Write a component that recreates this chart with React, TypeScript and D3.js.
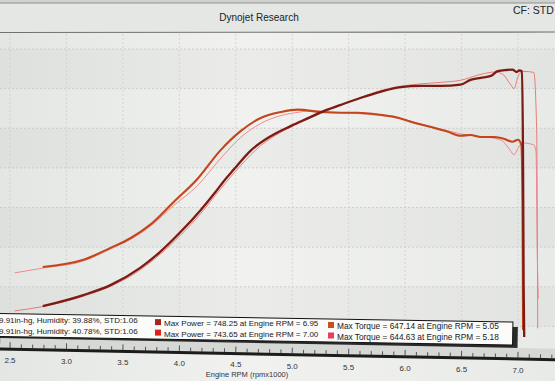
import React from "react";
import * as d3 from "d3";

const W = 555;
const H = 381;

// Run 1 (thick) — Power
const power1Rpm = [2.79, 3.15, 3.39, 3.65, 3.83, 4.01, 4.19, 4.32, 4.39, 4.48, 4.63, 4.81, 4.99, 5.16, 5.25, 5.43, 5.61, 5.78, 5.96, 6.14, 6.32, 6.49, 6.58, 6.67, 6.76, 6.82, 6.9, 6.95, 6.99, 7.01, 7.035, 7.045, 7.05, 7.055];
const power1Hp = [151, 179, 204, 247, 288, 338, 394, 439, 465, 495, 543, 580, 606, 628, 640, 659, 677, 692, 704, 707, 707, 710, 722, 727, 732, 744, 747, 748, 742, 746, 744, 500, 200, 73];
// Run 1 (thick) — Torque
const torque1Rpm = [2.79, 3.15, 3.39, 3.57, 3.74, 3.95, 4.16, 4.36, 4.54, 4.72, 4.9, 5.05, 5.25, 5.43, 5.58, 5.78, 5.9, 6.08, 6.23, 6.38, 6.49, 6.58, 6.67, 6.79, 6.88, 6.95, 7.0, 7.03, 7.04, 7.045];
const torque1Tq = [250, 268, 298, 323, 356, 414, 472, 543, 592, 626, 641, 647, 641, 639, 639, 634, 629, 614, 603, 591, 581, 583, 578, 578, 573, 566, 571, 558, 400, 91];
// Run 2 (thin) — Power
const power2Rpm = [2.54, 2.79, 3.15, 3.39, 3.65, 3.83, 4.01, 4.19, 4.36, 4.54, 4.72, 4.9, 5.07, 5.25, 5.43, 5.61, 5.78, 5.96, 6.14, 6.32, 6.49, 6.67, 6.8, 6.87, 6.93, 6.965, 7.0, 7.04, 7.14, 7.165, 7.175];
const power2Hp = [139, 150, 176, 201, 242, 282, 330, 385, 445, 505, 556, 590, 614, 637, 658, 678, 695, 706, 712, 716, 721, 736, 742, 735, 712, 700, 730, 743.6, 741, 600, 95];
// Run 2 (thin) — Torque
const torque2Rpm = [2.54, 2.79, 3.15, 3.39, 3.57, 3.74, 3.95, 4.16, 4.36, 4.54, 4.72, 4.9, 5.07, 5.18, 5.35, 5.58, 5.78, 5.96, 6.14, 6.32, 6.49, 6.67, 6.8, 6.87, 6.93, 6.965, 7.0, 7.04, 7.14, 7.16, 7.17, 7.18];
const torque2Tq = [235, 247, 265, 295, 320, 352, 405, 455, 522, 576, 612, 632, 641, 644.6, 641, 637, 632, 624, 611, 598, 586, 579, 574, 566, 545, 533, 550, 563, 558, 540, 300, 170];

const rpmTicks = [2.5, 3.0, 3.5, 4.0, 4.5, 5.0, 5.5, 6.0, 6.5, 7.0];
const gridValues = [100, 200, 300, 400, 500, 600, 700, 800];
const legendRun = ["9.91in-hg, Humidity: 39.88%, STD:1.06", "9.91in-hg, Humidity: 40.78%, STD:1.06"];
const legendPower = ["Max Power = 748.25 at Engine RPM = 6.95", "Max Power = 743.65 at Engine RPM = 7.00"];
const legendTorque = ["Max Torque = 647.14 at Engine RPM = 5.05", "Max Torque = 644.63 at Engine RPM = 5.18"];
const powerColors = ["#a3271a", "#e3201e"];
const torqueColors = ["#c8501e", "#ea3d5a"];

export default function App() {
  const x = d3.scaleLinear().domain([2.5, 7.0]).range([10, 518]);
  const y = d3.scaleLinear().domain([0, 800]).range([366, 49]);
  const line = d3
    .line<[number, number]>()
    .x((d) => x(d[0]))
    .y((d) => y(d[1]))
    .curve(d3.curveMonotoneX);
  const zip = (a: number[], b: number[]) => a.map((v, i) => [v, b[i]] as [number, number]);

  const minorTicks = d3.range(24, 74).map((v) => v / 10);
  const font = "'Liberation Sans', Arial, sans-serif";
  const slope = 0.0166; // slight tilt of the photographed screen
  const tilt = (px: number) => px * slope;

  return (
    <svg width={W} height={H} style={{ position: "absolute", left: 0, top: 0, display: "block" }} fontFamily={font}>
      <defs>
        <linearGradient id="bg" x1="0" x2="1" y1="0" y2="0">
          <stop offset="0" stopColor="#e3e6e3" />
          <stop offset="0.45" stopColor="#f1f2f0" />
          <stop offset="1" stopColor="#e8eae7" />
        </linearGradient>
      </defs>
      <rect x={0} y={0} width={W} height={H} fill="url(#bg)" />
      {/* header */}
      <rect x={0} y={0} width={W} height={3} fill="#cfd2cf" />
      <line x1={0} x2={W} y1={3} y2={3} stroke="#8d908d" strokeWidth={1} />
      <rect x={0} y={4} width={W} height={28} fill="#e5e7e4" />
      <line x1={0} x2={W} y1={32.5} y2={32} stroke="#6f726f" strokeWidth={1.2} />
      <text x={259} y={21} textAnchor="middle" fontSize={10} fill="#222">Dynojet Research</text>
      <text x={513} y={14} fontSize={10.5} fill="#222">CF: STD</text>

      {/* alternating bands */}
      {gridValues.filter((_, i) => i % 2 === 0).map((v) => (
        <rect key={"b" + v} x={0} y={y(v + 100)} width={W} height={y(v) - y(v + 100)} fill="#000" opacity={0.025} />
      ))}
      {/* grid */}
      {gridValues.map((v) => (
        <line key={"h" + v} x1={0} x2={W} y1={y(v)} y2={y(v)} stroke="#c4c7c4" strokeWidth={0.8} strokeDasharray="2,2" />
      ))}
      {rpmTicks.map((v) => (
        <line key={"v" + v} x1={x(v)} x2={x(v)} y1={34} y2={340} stroke="#cdd0cd" strokeWidth={0.8} strokeDasharray="2,2" />
      ))}

      {/* run 2 thin lines */}
      <path d={line(zip(power2Rpm, power2Hp)) || ""} fill="none" stroke="#e8706a" strokeWidth={1} opacity={0.9} />
      <path d={line(zip(torque2Rpm, torque2Tq)) || ""} fill="none" stroke="#ee7f86" strokeWidth={1} opacity={0.9} />
      {/* run 1 thick lines */}
      <path d={line(zip(torque1Rpm, torque1Tq)) || ""} fill="none" stroke="#c2461c" strokeWidth={2.1} />
      <path d={line(zip(power1Rpm, power1Hp)) || ""} fill="none" stroke="#7b1c14" strokeWidth={2.3} />

      {/* legend box (tilted) */}
      <g transform="rotate(0.95, 0, 314)">
        <rect x={-6} y={318} width={524} height={26} fill="#2a2a2a" />
        <rect x={-6} y={313.5} width={519} height={23} fill="#fbfbfa" stroke="#111" strokeWidth={1} />
      </g>
      {legendRun.map((t, i) => {
        const by = 322.5 + i * 10.5;
        return (
          <g key={"l" + i}>
            <text x={-1} y={by + tilt(60)} fontSize={8} fill="#1a1a1a">{t}</text>
            <rect x={155} y={by - 6 + tilt(158)} width={6} height={6} fill={powerColors[i]} />
            <text x={164} y={by + tilt(230)} fontSize={8} fill="#1a1a1a">{legendPower[i]}</text>
            <rect x={328} y={by - 6 + tilt(331)} width={6} height={6} fill={torqueColors[i]} />
            <text x={337} y={by + tilt(410)} fontSize={8.3} fill="#1a1a1a">{legendTorque[i]}</text>
          </g>
        );
      })}

      {/* x axis (tilted) */}
      <g transform="rotate(1.1, 0, 349)">
        <rect x={0} y={338} width={W + 10} height={10} fill="#d5d8d5" />
        <line x1={0} x2={W + 10} y1={349} y2={349} stroke="#1c1c1c" strokeWidth={3} />
        {minorTicks.map((v) => (
          <line key={"t" + v} x1={x(v)} x2={x(v)} y1={348} y2={Math.abs(v * 2 - Math.round(v * 2)) < 1e-6 ? 342 : 344} stroke="#333" strokeWidth={0.8} />
        ))}
      </g>
      {rpmTicks.map((v) => (
        <text key={"tl" + v} x={x(v)} y={362.5 + x(v) * 0.021} textAnchor="middle" fontSize={8} fill="#333">{d3.format(".1f")(v)}</text>
      ))}
      <text x={247} y={377} textAnchor="middle" fontSize={7.5} fill="#333">Engine RPM (rpmx1000)</text>
    </svg>
  );
}
